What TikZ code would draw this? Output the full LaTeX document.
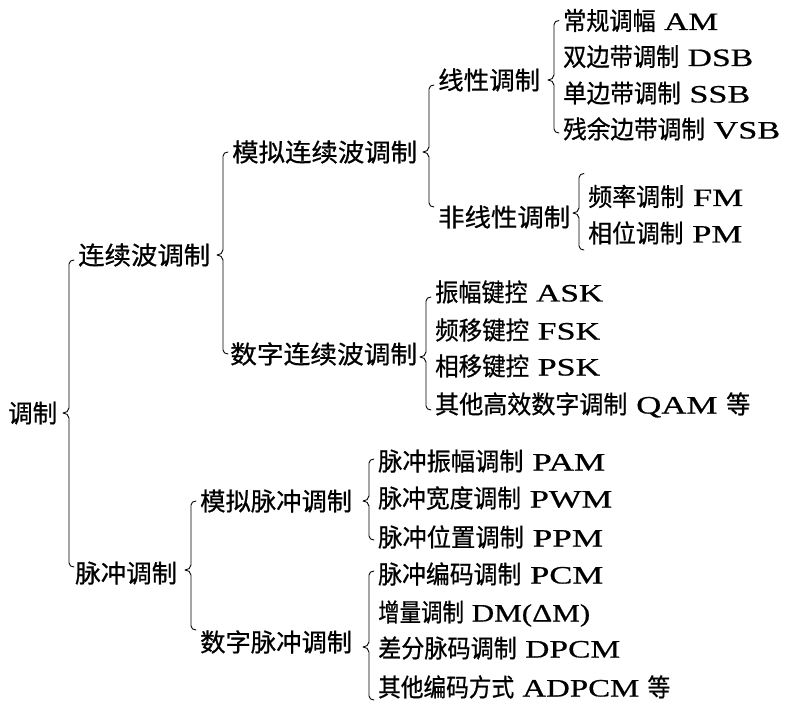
\documentclass[tikz,border=0pt]{standalone}
\usepackage{graphicx}
\usepackage{fontspec}
\setmainfont{Noto Sans CJK SC}[FakeBold=0.7]
\newfontfamily\lat{Liberation Serif}[FakeStretch=1.45,FakeBold=0.6]
\usetikzlibrary{calc}
\tikzset{
  lbl/.style={anchor=west, inner sep=0pt, text height=22pt, text depth=3pt,
              font=\fontsize{25}{25}\selectfont},
  brcline/.style={line width=0.9pt, line cap=round, line join=round}
}
\newcommand\fw[2]{\resizebox{#1pt}{\height}{#2}}
% parent, first child, last child, top extension, bottom extension, notch shift (down)
\newcommand\brc[6]{%
 \draw[brcline] let \p1=(#1.east), \p2=(#2.west), \p3=(#3.west) in
  ({\x2-4pt},{\y2+(#4pt)}) to[out=180,in=90] ({\x2-9pt},{\y2+(#4pt)-4pt})
  -- ({\x2-9pt},{\y1-(#6pt)+5pt})
  .. controls ({\x2-9pt},{\y1-(#6pt)+2pt}) and ({\x2-12pt},{\y1-(#6pt)}) .. ({\x2-15pt},{\y1-(#6pt)})
  .. controls ({\x2-12pt},{\y1-(#6pt)}) and ({\x2-9pt},{\y1-(#6pt)-2pt}) .. ({\x2-9pt},{\y1-(#6pt)-5pt})
  -- ({\x2-9pt},{\y3-(#5pt)+4pt}) to[out=-90,in=180] ({\x2-4pt},{\y3-(#5pt)});}
\begin{document}
\begin{tikzpicture}[x=1pt,y=-1pt]
\useasboundingbox (0,0) rectangle (785,722);
\node[lbl] (r) at (8,413) {\fw{49}{调制}};
\node[lbl] (c1) at (78,255) {\fw{132}{连续波调制}};
\node[lbl] (c2) at (75,573) {\fw{102}{脉冲调制}};
\node[lbl] (c11) at (232,152) {\fw{185}{模拟连续波调制}};
\node[lbl] (c12) at (230,354) {\fw{187}{数字连续波调制}};
\node[lbl] (c111) at (438,80) {\fw{102}{线性调制}};
\node[lbl] (c112) at (438,217) {\fw{132}{非线性调制}};
\node[lbl] (l1) at (563,20.5) {\fw{155}{常规调幅{\lat\ AM}}};
\node[lbl] (l2) at (563,56.5) {\fw{190}{双边带调制{\lat\ DSB}}};
\node[lbl] (l3) at (563,93) {\fw{187}{单边带调制{\lat\ SSB}}};
\node[lbl] (l4) at (563,129) {\fw{217}{残余边带调制{\lat\ VSB}}};
\node[lbl] (n1) at (588,196.5) {\fw{155}{频率调制{\lat\ FM}}};
\node[lbl] (n2) at (588,233) {\fw{154}{相位调制{\lat\ PM}}};
\node[lbl] (d1) at (435,292) {\fw{168}{振幅键控{\lat\ ASK}}};
\node[lbl] (d2) at (435,330) {\fw{165}{频移键控{\lat\ FSK}}};
\node[lbl] (d3) at (435,366) {\fw{165}{相移键控{\lat\ PSK}}};
\node[lbl] (d4) at (435,404) {\fw{315}{其他高效数字调制{\lat\ QAM\ }等}};
\node[lbl] (c21) at (200,501) {\fw{152}{模拟脉冲调制}};
\node[lbl] (c22) at (200,642) {\fw{152}{数字脉冲调制}};
\node[lbl] (p1) at (378,461) {\fw{227}{脉冲振幅调制{\lat\ PAM}}};
\node[lbl] (p2) at (378,498) {\fw{234}{脉冲宽度调制{\lat\ PWM}}};
\node[lbl] (p3) at (378,537) {\fw{225}{脉冲位置调制{\lat\ PPM}}};
\node[lbl] (q1) at (378,574) {\fw{225}{脉冲编码调制{\lat\ PCM}}};
\node[lbl] (q2) at (378,612) {\fw{212}{增量调制{\lat\ DM(ΔM)}}};
\node[lbl] (q3) at (378,648) {\fw{242}{差分脉码调制{\lat\ DPCM}}};
\node[lbl] (q4) at (378,687) {\fw{292}{其他编码方式{\lat\ ADPCM\ }等}};
\brc{r}{c1}{c2}{-5}{-6}{0}
\brc{c1}{c11}{c12}{0}{0}{0}
\brc{c2}{c21}{c22}{0}{-12}{-3}
\brc{c11}{c111}{c112}{-5}{-10}{0}
\brc{c12}{d1}{d4}{-5}{6}{3}
\brc{c111}{l1}{l4}{0}{4}{0}
\brc{c112}{n1}{n2}{23}{17}{-4}
\brc{c21}{p1}{p3}{2}{3}{0}
\brc{c22}{q1}{q4}{3}{13}{5}
\end{tikzpicture}
\end{document}
